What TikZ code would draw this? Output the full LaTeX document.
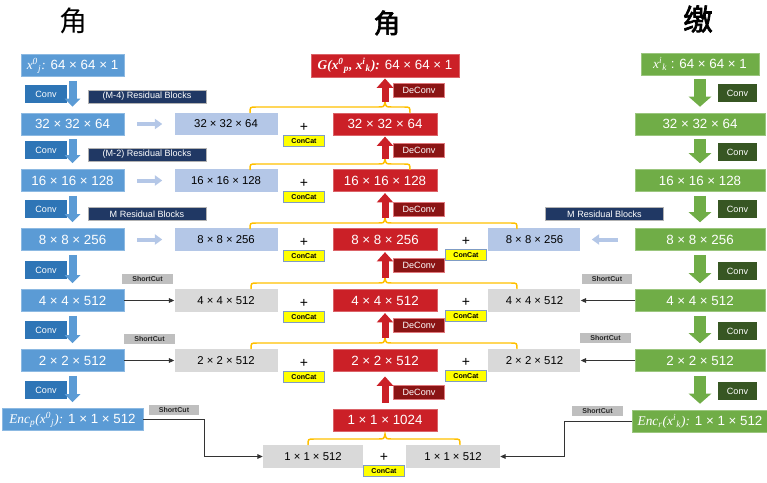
\documentclass[tikz,border=0pt]{standalone}
\usepackage{fontspec}
\setmainfont{Liberation Sans}
\newfontfamily\tnr{Liberation Serif}
\newfontfamily\cjk{Noto Sans CJK SC}
\newfontfamily\cjkbold[FakeBold=2.5]{Noto Sans CJK SC}
\usepackage{tikz}
\usetikzlibrary{positioning,arrows.meta}

\definecolor{encblue}{HTML}{5B9BD5}
\definecolor{convblue}{HTML}{2E75B6}
\definecolor{resnavy}{HTML}{203864}
\definecolor{copyblue}{HTML}{B4C7E7}
\definecolor{copygray}{HTML}{D9D9D9}
\definecolor{cutgray}{HTML}{BFBFBF}
\definecolor{decred}{HTML}{CB2027}
\definecolor{deconvred}{HTML}{8B1414}
\definecolor{encgreen}{HTML}{70AD47}
\definecolor{convgreen}{HTML}{375623}
\definecolor{catyellow}{HTML}{FFFF00}
\definecolor{catedge}{HTML}{7F9CC4}
\definecolor{braceorange}{HTML}{FFC000}

\newcommand\supsub[2]{\textsuperscript{#1}\textsubscript{#2}}
% orange brace over two or three boxes, tip on the centre column
\newcommand\catbrace[4]{%
  \coordinate (#4) at (385,#3-11);
  \draw[brace] (#1,#3) .. controls (#1,#3-6) .. (#1+6,#3-6) -- (378,#3-6)
    .. controls (384,#3-6) .. (#4) .. controls (386,#3-6) .. (392,#3-6)
    -- (#2-6,#3-6) .. controls (#2,#3-6) .. (#2,#3);}

\tikzset{
  box/.style={minimum height=16.5pt, inner sep=0pt, text=white, font=\fontsize{10}{12}\selectfont},
  encp/.style={box, fill=encblue, draw=encblue!70!white, line width=0.4pt, minimum width=77.25pt},
  dec/.style={box, fill=decred, draw=decred!70!white, line width=0.4pt, minimum width=78pt},
  enck/.style={box, fill=encgreen, draw=encgreen!70!white, line width=0.4pt, minimum width=97.5pt},
  copy/.style={minimum height=17pt, minimum width=77.25pt, inner sep=0pt, font=\fontsize{8.5}{10}\selectfont},
  copyb/.style={copy, fill=copyblue},
  copyg/.style={copy, fill=copygray},
  tag/.style={inner sep=0pt, text=white, font=\fontsize{6.8}{8}\selectfont},
  convp/.style={tag, fill=convblue, minimum width=31.5pt, minimum height=13.5pt},
  convk/.style={tag, fill=convgreen, minimum width=29pt, minimum height=13pt},
  res/.style={tag, fill=resnavy, draw=black!30, line width=0.3pt, minimum width=88.5pt, minimum height=9.75pt},
  deconv/.style={tag, fill=deconvred, draw=decred!60!white, line width=0.3pt, minimum width=38pt, minimum height=10.5pt},
  cut/.style={inner sep=0pt, fill=cutgray, text=black!85, font=\fontsize{5.3}{6}\selectfont\bfseries, minimum width=38pt, minimum height=7.5pt},
  cat/.style={inner sep=0pt, fill=catyellow, draw=catedge, line width=0.5pt, font=\fontsize{5.3}{6}\selectfont\bfseries, minimum width=31pt, minimum height=8pt},
  plus/.style={inner sep=0pt, font=\fontsize{10.5}{12}\selectfont},
  brace/.style={draw=braceorange, line width=1.1pt},
  encarrow/.style={draw=encblue, line width=6pt, -{Triangle[length=6pt,width=11.5pt]}, shorten <=3pt, shorten >=4.5pt},
  keyarrow/.style={draw=encgreen, line width=9pt, -{Triangle[length=7.5pt,width=16.5pt]}, shorten <=3pt, shorten >=4.5pt},
  decarrow/.style={draw=decred, line width=5.25pt, -{Triangle[length=7pt,width=12pt]}, shorten >=1pt},
  copyarrow/.style={draw=copyblue, line width=3pt, -{Triangle[length=5.5pt,width=7.5pt]}},
  skip/.style={draw=black!80, line width=0.7pt, -{Triangle[length=4pt,width=3.5pt]}}
}

\begin{document}
\begin{tikzpicture}[x=0.75pt,y=-0.75pt]
\useasboundingbox (0,0) rectangle (767,482);
% Glyphs
\node[font=\cjk\fontsize{21}{21}\selectfont] (CharP) at (73,21) {角};
\node[font=\cjkbold\fontsize{20}{20}\selectfont] (CharG) at (387,23) {角};
\node[font=\cjkbold\fontsize{22}{22}\selectfont] (CharK) at (698,19) {缴};
% Encoder p
\node[encp] (P64) at (72.5,65.5) {{\tnr\itshape x\supsub{0}{j}:} 64 × 64 × 1};
\node[encp] (P32) at (72.5,124) {32 × 32 × 64};
\node[encp] (P16) at (72.5,180.5) {16 × 16 × 128};
\node[encp] (P8) at (72.5,239.5) {8 × 8 × 256};
\node[encp] (P4) at (72.5,300.5) {4 × 4 × 512};
\node[encp] (P2) at (72.5,360.5) {2 × 2 × 512};
\node[encp, minimum width=105.75pt] (P1) at (72.5,419.5) {{\tnr\itshape Enc\textsubscript{p}(x\supsub{0}{j}):} 1 × 1 × 512};
\foreach \y [count=\i] in {94,150,209,270,330,390}
  \node[convp] (ConvP\i) at (46,\y) {Conv};
\foreach \a/\b in {P64/P32,P32/P16,P16/P8,P8/P4,P4/P2,P2/P1}
  \draw[encarrow] (\a) -- (\b);
\node[res] (ResP1) at (147,96.5) {(M-4) Residual Blocks};
\node[res] (ResP2) at (147,154.5) {(M-2) Residual Blocks};
\node[res] (ResP3) at (147,214) {M Residual Blocks};
% Encoder k
\node[enck, minimum width=88.5pt] (K64) at (700,64) {{\tnr\itshape x\supsub{i}{k}} : 64 × 64 × 1};
\node[enck] (K32) at (700,124) {32 × 32 × 64};
\node[enck] (K16) at (700,180.5) {16 × 16 × 128};
\node[enck] (K8) at (700,239.5) {8 × 8 × 256};
\node[enck] (K4) at (700,300.5) {4 × 4 × 512};
\node[enck] (K2) at (700,360.5) {2 × 2 × 512};
\node[enck, minimum width=102pt] (K1) at (700,421) {{\tnr\itshape Enc\textsubscript{r}(x\supsub{i}{k}):} 1 × 1 × 512};
\foreach \y [count=\i] in {93,152,209,271,331,391}
  \node[convk] (ConvK\i) at (737.5,\y) {Conv};
\foreach \a/\b in {K64/K32,K32/K16,K16/K8,K8/K4,K4/K2,K2/K1}
  \draw[keyarrow] (\a) -- (\b);
\node[res] (ResK3) at (604.5,214) {M Residual Blocks};
% Copies of the encoder maps
\node[copyb, right=37.5pt of P32] (Lp32) {32 × 32 × 64};
\node[copyb, right=37.5pt of P16] (Lp16) {16 × 16 × 128};
\node[copyb, right=37.5pt of P8] (Lp8) {8 × 8 × 256};
\node[copyg, right=37.5pt of P4] (Lp4) {4 × 4 × 512};
\node[copyg, right=37.5pt of P2] (Lp2) {2 × 2 × 512};
\node[copyg, minimum width=75pt] (Lp1) at (313,456.5) {1 × 1 × 512};
\node[copyb, minimum width=69pt, left=40.5pt of K8] (Rk8) {8 × 8 × 256};
\node[copyg, minimum width=69pt, left=40.5pt of K4] (Rk4) {4 × 4 × 512};
\node[copyg, minimum width=69pt, left=40.5pt of K2] (Rk2) {2 × 2 × 512};
\node[copyg, minimum width=70.5pt] (Rk1) at (453,456.5) {1 × 1 × 512};
\draw[copyarrow, shorten <=9.75pt, shorten >=9pt] (P32) -- (Lp32);
\draw[copyarrow, shorten <=9.75pt, shorten >=9pt] (P16) -- (Lp16);
\draw[copyarrow, shorten <=9.75pt, shorten >=9pt] (P8) -- (Lp8);
\draw[copyarrow, shorten <=12.75pt, shorten >=8.25pt] (K8) -- (Rk8);
% Shortcuts
\node[cut] (CutP4) at (147.5,278.5) {ShortCut};
\node[cut] (CutP2) at (149.5,338.5) {ShortCut};
\node[cut] (CutP1) at (174,409.5) {ShortCut};
\node[cut] (CutK4) at (607,279) {ShortCut};
\node[cut] (CutK2) at (605.5,338) {ShortCut};
\node[cut] (CutK1) at (597.5,410.5) {ShortCut};
\coordinate (BendP) at (204,419.5);
\coordinate (BendK) at (564,421);
\draw[skip] (P4) -- (Lp4);
\draw[skip] (P2) -- (Lp2);
\draw[skip] (K4) -- (Rk4);
\draw[skip] (K2) -- (Rk2);
\draw[skip] (P1.east) -- (BendP) |- (Lp1.west);
\draw[skip] (K1.west) -- (BendK) |- (Rk1.east);
% Decoder
\node[dec, minimum width=111pt, minimum height=17pt] (G64) at (385,65.5) {{\tnr\itshape\bfseries G(x\supsub{0}{p}, x\supsub{i}{k}):} 64 × 64 × 1};
\node[dec] (G32) at (385,124) {32 × 32 × 64};
\node[dec] (G16) at (385,180.5) {16 × 16 × 128};
\node[dec] (G8) at (385,239.5) {8 × 8 × 256};
\node[dec] (G4) at (385,300.5) {4 × 4 × 512};
\node[dec] (G2) at (385,360.5) {2 × 2 × 512};
\node[dec] (G1) at (385,420) {1 × 1 × 1024};
\foreach \y [count=\i] in {90,150,209,265,325,392}
  \node[deconv] (DeConv\i) at (419,\y) {DeConv};
% Concatenation
\foreach \n/\y in {32/124,16/180.5,8/239.5,4/300.5,2/360.5} {
  \node[plus] (PlusL\n) at (304,\y+3) {+};
  \node[cat, below=2.7pt of PlusL\n] (CatL\n) {ConCat};
}
\foreach \n/\y in {8/239.5,4/300.5,2/360.5} {
  \node[plus] (PlusR\n) at (466,\y+2) {+};
  \node[cat, below=2.5pt of PlusR\n] (CatR\n) {ConCat};
}
\node[plus] (Plus1) at (384,457.5) {+};
\node[cat, below=2.5pt of Plus1] (Cat1) {ConCat};
\catbrace{250}{410}{113}{Tip32}
\catbrace{250}{410}{170}{Tip16}
\catbrace{250}{517}{229}{Tip8}
\catbrace{251}{517}{289}{Tip4}
\catbrace{251}{517}{349}{Tip2}
\catbrace{308}{460}{445}{Tip1}
\draw[decarrow] (Tip32) -- (G64);
\draw[decarrow] (Tip16) -- (G32);
\draw[decarrow] (Tip8) -- (G16);
\draw[decarrow] (Tip4) -- (G8);
\draw[decarrow] (Tip2) -- (G4);
\draw[decarrow, shorten <=4.5pt, shorten >=3.5pt] (G1) -- (G2);
\end{tikzpicture}
\end{document}
